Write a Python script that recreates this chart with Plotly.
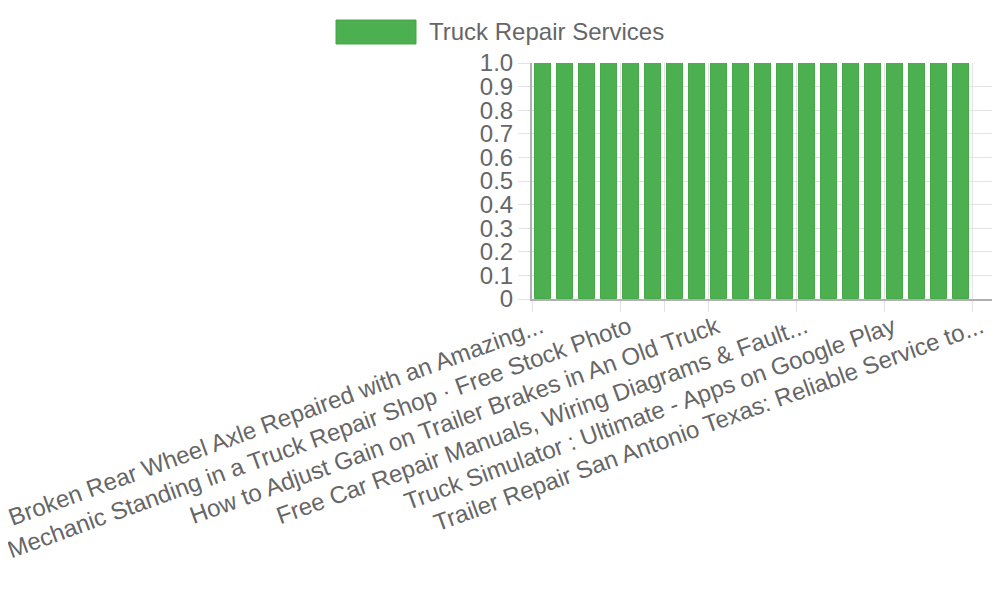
import plotly.graph_objects as go

##########
# Data #
##########
series_name = "Truck Repair Services"
bar_index = [0, 1, 2, 3, 4, 5, 6, 7, 8, 9, 10, 11, 12, 13, 14, 15, 16, 17, 18, 19]
bar_values = [1.0, 1.0, 1.0, 1.0, 1.0, 1.0, 1.0, 1.0, 1.0, 1.0,
              1.0, 1.0, 1.0, 1.0, 1.0, 1.0, 1.0, 1.0, 1.0, 1.0]

# the x axis only shows some of the (long) titles
x_tick_pos = [-0.5, 3.5, 5.5, 7.5, 11.5, 15.5, 19.5]
x_tick_text = [
    "Broken Rear Wheel Axle Repaired with an Amazing...",
    "Mechanic Standing in a Truck Repair Shop · Free Stock Photo",
    "",
    "How to Adjust Gain on Trailer Brakes in An Old Truck",
    "Free Car Repair Manuals, Wiring Diagrams & Fault...",
    "Truck Simulator : Ultimate - Apps on Google Play",
    "Trailer Repair San Antonio Texas: Reliable Service to...",
]
y_tick_pos = [0, 0.1, 0.2, 0.3, 0.4, 0.5, 0.6, 0.7, 0.8, 0.9, 1.0]
y_tick_text = ["0", "0.1", "0.2", "0.3", "0.4", "0.5", "0.6", "0.7", "0.8", "0.9", "1.0"]

# ----- styling -----
green = "#4caf50"
grid = "#e3e3e3"
axis_col = "#b0b0b0"
text_col = "#666666"
font = "Liberation Sans, Arial, sans-serif"

# page has an 8px body margin, so shift everything up/left by that
OFF = 8
# plot area in page pixels: x 532..993, y 63..299
L = 532 - OFF
T = 63 - OFF
R = 1000 - (993 - OFF)
B = 600 - (299 - OFF)
W, H = 1000 - L - R, 600 - T - B

fig = go.Figure()
fig.add_trace(go.Bar(
    x=bar_index,
    y=bar_values,
    name=series_name,
    width=0.72,
    marker=dict(color=green, line=dict(color="#45a849", width=1)),
    showlegend=False,
))

fig.update_xaxes(
    range=[-0.5, 20.45],
    tickmode="array",
    tickvals=x_tick_pos,
    ticktext=x_tick_text,
    tickangle=-20,
    ticklabeloverflow="allow",
    ticklabelshift=9,
    ticklabelstandoff=-8,
    showgrid=True,
    gridcolor=grid,
    gridwidth=1,
    ticks="outside",
    ticklen=11,
    tickcolor=grid,
    showline=True,
    linecolor=axis_col,
    linewidth=2,
    zeroline=False,
    tickfont=dict(size=24, color=text_col, family=font),
)
fig.update_yaxes(
    range=[0, 1],
    tickmode="array",
    tickvals=y_tick_pos,
    ticktext=y_tick_text,
    showgrid=True,
    gridcolor=grid,
    gridwidth=1,
    ticks="outside",
    ticklen=12,
    tickcolor=grid,
    showline=True,
    linecolor=axis_col,
    linewidth=2,
    zeroline=False,
    tickfont=dict(size=24, color=text_col, family=font),
)

# legend drawn by hand: wide colour box + label, centred above the chart
def px_x(p):
    return (p - OFF - L) / W

def px_y(p):
    return (600 - B - (p - OFF)) / H

fig.add_shape(type="rect", xref="paper", yref="paper",
              x0=px_x(336), x1=px_x(416), y0=px_y(44), y1=px_y(20),
              fillcolor=green, line=dict(color="#45a849", width=1))
fig.add_annotation(text=series_name, xref="paper", yref="paper",
                   x=px_x(427), y=px_y(32), xanchor="left", yanchor="middle",
                   showarrow=False,
                   font=dict(size=24, color=text_col, family=font))

fig.update_layout(
    width=1000,
    height=600,
    margin=dict(l=L, r=R, t=T, b=B, autoexpand=False),
    plot_bgcolor="white",
    paper_bgcolor="white",
    bargap=0,
    font=dict(family=font, color=text_col),
)
fig.write_html("out.html")
